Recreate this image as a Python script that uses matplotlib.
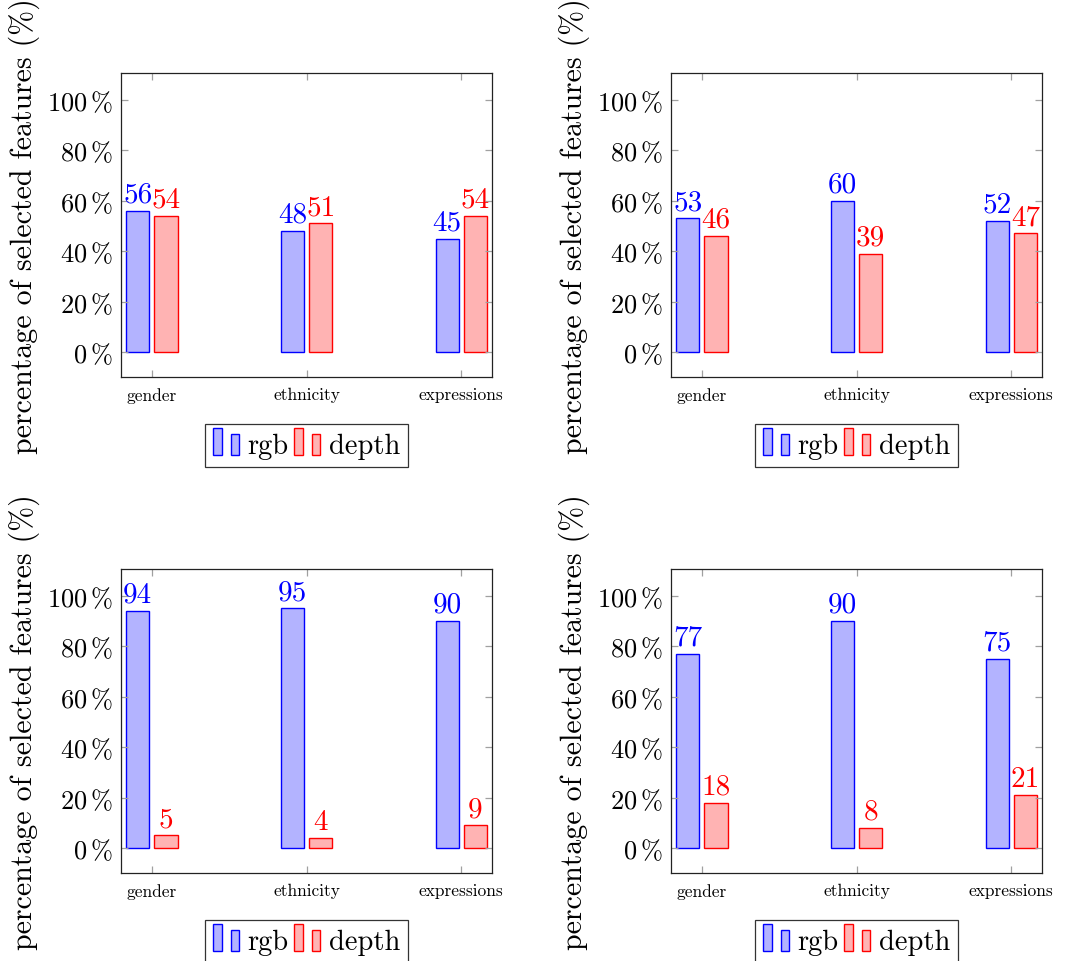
import matplotlib
matplotlib.use("Agg")
import matplotlib.pyplot as plt
from matplotlib.patches import Rectangle
from matplotlib.ticker import FuncFormatter, FixedLocator
import numpy as np

plt.rcParams['font.family'] = ['cmr10', 'DejaVu Serif']
plt.rcParams['mathtext.fontset'] = 'cm'
plt.rcParams['axes.unicode_minus'] = False

categories = ["gender", "ethnicity", "expressions"]
rgb_tl = [56, 48, 45]
depth_tl = [54, 51, 54]
rgb_tr = [53, 60, 52]
depth_tr = [46, 39, 47]
rgb_bl = [94, 95, 90]
depth_bl = [5, 4, 9]
rgb_br = [77, 90, 75]
depth_br = [18, 8, 21]
yticks = [0, 20, 40, 60, 80, 100]
ylabel = "percentage of selected features (%)"

panels = [(rgb_tl, depth_tl), (rgb_tr, depth_tr), (rgb_bl, depth_bl), (rgb_br, depth_br)]

W, H = 1075, 962
fig = plt.figure(figsize=(W / 100, H / 100), dpi=100)

blue_edge = (0, 0, 1)
blue_fill = (0.7, 0.7, 1)
red_edge = (1, 0, 0)
red_fill = (1, 0.7, 0.7)


class TwoBarHandler:
    def __init__(self, face, edge):
        self.face = face
        self.edge = edge

    def legend_artist(self, legend, orig_handle, fontsize, handlebox):
        x0, y0 = handlebox.xdescent, handlebox.ydescent
        w, h = handlebox.width, handlebox.height
        bw = w * 0.3
        r1 = Rectangle((x0, y0 - h * 0.15), bw, h * 1.25, facecolor=self.face,
                       edgecolor=self.edge, lw=1, transform=handlebox.get_transform())
        r2 = Rectangle((x0 + w * 0.6, y0 - h * 0.15), bw, h * 0.95, facecolor=self.face,
                       edgecolor=self.edge, lw=1, transform=handlebox.get_transform())
        handlebox.add_artist(r1)
        handlebox.add_artist(r2)
        return r1


lefts = [121, 671]
tops = [74, 570]
aw, ah = 371.3, 304.3
x = np.arange(len(categories))
bw = 0.15
shift = 0.0915

for idx, (rgb, depth) in enumerate(panels):
    col = idx % 2
    row = idx // 2
    l = lefts[col] / W
    b = 1 - (tops[row] + ah) / H
    ax = fig.add_axes([l, b, aw / W, ah / H])
    hb = ax.bar(x - shift, rgb, bw, facecolor=blue_fill, edgecolor=blue_edge, lw=1, label="rgb")
    hr = ax.bar(x + shift, depth, bw, facecolor=red_fill, edgecolor=red_edge, lw=1, label="depth")
    for xi, v in zip(x - shift, rgb):
        ax.annotate(str(v), (xi, v), xytext=(0, 6.5), textcoords='offset points',
                    ha='center', va='baseline', color=blue_edge, fontsize=21)
    for xi, v in zip(x + shift, depth):
        ax.annotate(str(v), (xi, v), xytext=(0, 6.5), textcoords='offset points',
                    ha='center', va='baseline', color=red_edge, fontsize=21)
    ax.set_xlim(-0.2, 2.2)
    ax.set_ylim(-10, 110.6)
    ax.xaxis.set_major_locator(FixedLocator(x))
    ax.set_xticklabels(categories, fontsize=12.5)
    ax.yaxis.set_major_locator(FixedLocator(yticks))
    ax.yaxis.set_major_formatter(FuncFormatter(lambda v, p: r"$%d\,\%%$" % v))
    ax.tick_params(axis='both', direction='in', length=5, width=0.9, color='#a0a0a0',
                   top=True, right=True)
    ax.tick_params(axis='y', labelsize=19, pad=6)
    ax.tick_params(axis='x', pad=7)
    for s in ax.spines.values():
        s.set_linewidth(0.9)
        s.set_color('#222222')
    ax.set_ylabel(ylabel, fontsize=21.5, labelpad=5)
    leg = ax.legend([hb, hr], ["rgb", "depth"], loc='upper center',
                    bbox_to_anchor=(0.5, -0.152), ncol=2, fontsize=20.5,
                    frameon=True, fancybox=False, edgecolor='black', borderaxespad=0,
                    handler_map={hb: TwoBarHandler(blue_fill, blue_edge),
                                 hr: TwoBarHandler(red_fill, red_edge)},
                    handlelength=1.0, handletextpad=0.2, columnspacing=0.2,
                    borderpad=0.3, handleheight=0.8)
    leg.get_frame().set_linewidth(0.9)

fig.savefig("out.png", dpi=100)
